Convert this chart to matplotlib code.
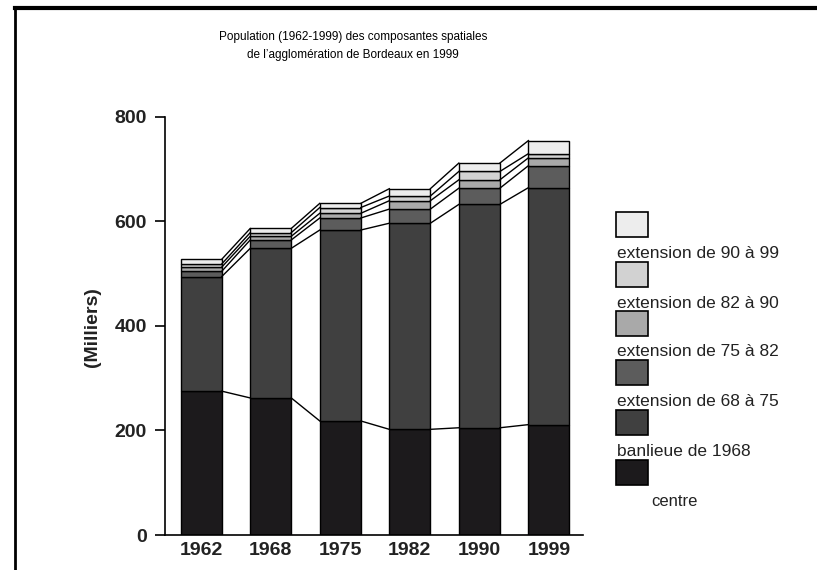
import numpy as np
import matplotlib
matplotlib.use("Agg")
import matplotlib.pyplot as plt
from matplotlib.patches import Rectangle
from matplotlib.lines import Line2D

plt.rcParams["font.family"] = ["Liberation Sans", "DejaVu Sans"]

years = ["1962", "1968", "1975", "1982", "1990", "1999"]
centre = [275, 262, 218, 202, 205, 211]
banlieue = [219, 286, 365, 394, 427, 453]
ext_68_75 = [10, 16, 23, 27, 31, 42]
ext_75_82 = [8, 7, 9, 16, 16, 15]
ext_82_90 = [6, 7, 11, 9, 16, 8]
ext_90_99 = [9, 8, 8, 14, 16, 25]

series = [centre, banlieue, ext_68_75, ext_75_82, ext_82_90, ext_90_99]
labels = ["centre", "banlieue de 1968", "extension de 68 à 75",
          "extension de 75 à 82", "extension de 82 à 90", "extension de 90 à 99"]
colors = ["#1c1a1c", "#404040", "#5c5c5c", "#a9a9a9", "#d2d2d2", "#ededed"]

fig = plt.figure(figsize=(8.17, 5.70), dpi=100)
ax = fig.add_axes([0.202, 0.0614, 0.5116, 0.7342])

x = np.arange(len(years))
width = 0.59
bottom = np.zeros(len(years))
tops = []
for vals, col in zip(series, colors):
    vals = np.array(vals, dtype=float)
    ax.bar(x, vals, width, bottom=bottom, color=col, edgecolor="black", linewidth=1.0, zorder=2)
    bottom = bottom + vals
    tops.append(bottom.copy())

# series lines between bars
for t in tops:
    for i in range(len(years) - 1):
        ax.plot([x[i] + width / 2, x[i + 1] - width / 2], [t[i], t[i + 1]],
                color="black", linewidth=1.0, zorder=3)

ax.set_xlim(-0.52, 5.49)
ax.set_ylim(0, 800)
ax.set_yticks([0, 200, 400, 600, 800])
ax.set_xticks(x)
ax.set_xticklabels(years)
for s in ["top", "right"]:
    ax.spines[s].set_visible(False)
ax.spines["left"].set_linewidth(1.2)
ax.spines["bottom"].set_linewidth(1.2)
ax.tick_params(axis="y", length=7, width=1.2, labelsize=14, pad=6)
ax.tick_params(axis="x", length=0, labelsize=14, pad=5)
for lab in ax.get_xticklabels() + ax.get_yticklabels():
    lab.set_fontweight("bold")
    lab.set_color("#222222")

fig.text(93 / 817, 1 - 327 / 570, "(Milliers)", rotation=90, ha="center", va="center",
         fontsize=14, fontweight="bold", color="#222222")

fig.text(353 / 817, 1 - 37 / 570, "Population (1962-1999) des composantes spatiales",
         ha="center", va="center", fontsize=8.5)
fig.text(353 / 817, 1 - 55 / 570, "de l\u2019agglomération de Bordeaux en 1999",
         ha="center", va="center", fontsize=8.5)

# legend: squares with labels beneath
sq_tops = [212, 262, 311, 360, 410, 460]
for k, ytop in enumerate(sq_tops):
    idx = len(series) - 1 - k
    fig.patches.append(Rectangle((616 / 817, 1 - (ytop + 25) / 570), 32 / 817, 25 / 570,
                                 transform=fig.transFigure, facecolor=colors[idx],
                                 edgecolor="black", linewidth=1.2))
    if idx == 0:
        fig.text(651 / 817, 1 - (ytop + 41) / 570, labels[idx], ha="left", va="center",
                 fontsize=12, color="#222222")
    else:
        fig.text(617 / 817, 1 - (ytop + 41) / 570, labels[idx], ha="left", va="center",
                 fontsize=12.5, color="#222222")

# page frame
fig.add_artist(Line2D([15 / 817, 15 / 817], [0, 1 - 8 / 570], transform=fig.transFigure,
                      color="black", linewidth=2))
fig.add_artist(Line2D([15 / 817, 1], [1 - 8 / 570, 1 - 8 / 570], transform=fig.transFigure,
                      color="black", linewidth=3))

fig.savefig("out.png", dpi=100)
